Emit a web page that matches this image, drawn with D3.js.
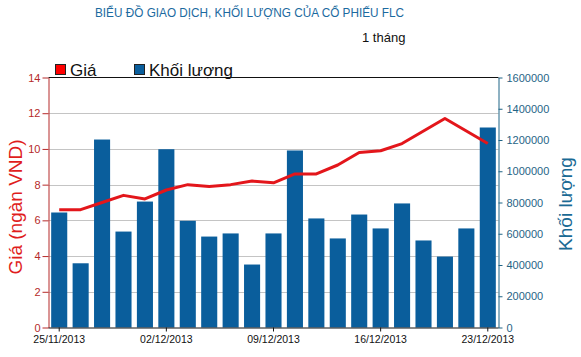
<!DOCTYPE html>
<html>
<head>
<meta charset="utf-8">
<script src="https://cdn.jsdelivr.net/npm/d3@7"></script>
<style>
  html, body { margin: 0; padding: 0; background: #fff; }
  svg { display: block; font-family: "Liberation Sans", Arial, sans-serif; }
</style>
</head>
<body>
<div id="chart"></div>
<script>
const dates = ["25/11/2013","26/11/2013","27/11/2013","28/11/2013","29/11/2013",
  "02/12/2013","03/12/2013","04/12/2013","05/12/2013","06/12/2013",
  "09/12/2013","10/12/2013","11/12/2013","12/12/2013","13/12/2013",
  "16/12/2013","17/12/2013","18/12/2013","19/12/2013","20/12/2013","23/12/2013"];
const tickDates = ["25/11/2013","02/12/2013","09/12/2013","16/12/2013","23/12/2013"];
const price = [6.6,6.6,7.0,7.4,7.2,7.7,8.0,7.9,8.0,8.2,8.1,8.6,8.6,9.1,9.8,9.9,10.3,11.0,11.7,11.0,10.3];
const volume = [736000,411000,1203000,614000,806000,1141000,683000,582000,602000,403000,
  602000,1133000,698000,570000,723000,634000,794000,557000,454000,634000,1280000];
const priceTicks = [0,2,4,6,8,10,12,14];
const volumeTicks = [0,200000,400000,600000,800000,1000000,1200000,1400000,1600000];

(function () {
const W = 581, H = 357;
const pLeft = 48.5, pRight = 498.5, pTop = 77.5, pBottom = 327.5;
const red = "#e3161b", axisRed = "#b52a2a", blue = "#0a5e9c", teal = "#1f6486";

const svg = d3.select("#chart").append("svg").attr("width", W).attr("height", H);

const x = d3.scaleBand().domain(dates).range([pLeft, pRight]).paddingInner(0.25).paddingOuter(0.125);
const yP = d3.scaleLinear().domain([0, 14]).range([pBottom, pTop]);
const yV = d3.scaleLinear().domain([0, 1600000]).range([pBottom, pTop]);

// Title
svg.append("text").attr("x", 95).attr("y", 17).attr("fill", "#1b6aa0")
  .attr("font-size", 12).attr("textLength", 309).attr("lengthAdjust", "spacingAndGlyphs")
  .text("BIỂU ĐỒ GIAO DỊCH, KHỐI LƯỢNG CỦA CỔ PHIẾU FLC");
svg.append("text").attr("x", 362).attr("y", 42).attr("fill", "#111")
  .attr("font-size", 13).text("1 tháng");

// Legend
svg.append("rect").attr("x", 55.5).attr("y", 64.5).attr("width", 10).attr("height", 10)
  .attr("fill", "#f00").attr("stroke", "#222");
svg.append("text").attr("x", 70).attr("y", 76).attr("font-size", 17).attr("fill", "#111").text("Giá");
svg.append("rect").attr("x", 134.5).attr("y", 64.5).attr("width", 10).attr("height", 10)
  .attr("fill", blue).attr("stroke", "#222");
svg.append("text").attr("x", 149).attr("y", 76).attr("font-size", 17).attr("fill", "#111").text("Khối lượng");

// Gridlines
svg.append("g").selectAll("line").data(priceTicks.filter(d => d > 0 && d < 14)).join("line")
  .attr("x1", pLeft).attr("x2", pRight)
  .attr("y1", d => Math.round(yP(d)) + 0.5).attr("y2", d => Math.round(yP(d)) + 0.5)
  .attr("stroke", "#c4c4c4").attr("stroke-width", 1);

// Top border
svg.append("line").attr("x1", pLeft).attr("x2", pRight).attr("y1", pTop).attr("y2", pTop)
  .attr("stroke", "#111").attr("stroke-width", 1);

// Bars
svg.append("g").selectAll("rect").data(volume).join("rect")
  .attr("x", (d, i) => x(dates[i]))
  .attr("width", x.bandwidth())
  .attr("y", d => yV(d))
  .attr("height", d => pBottom - yV(d))
  .attr("fill", blue);

// Price line
svg.append("path").datum(price)
  .attr("d", d3.line().x((d, i) => x(dates[i]) + x.bandwidth() / 2).y(d => yP(d)))
  .attr("fill", "none").attr("stroke", red).attr("stroke-width", 3).attr("stroke-linejoin", "round");

// Left axis
const gL = svg.append("g").attr("transform", `translate(${pLeft},0)`)
  .call(d3.axisLeft(yP).tickValues(priceTicks).tickSize(6).tickSizeOuter(0).tickPadding(2));
gL.select(".domain").attr("stroke", axisRed);
gL.selectAll(".tick line").attr("stroke", axisRed);
gL.selectAll(".tick text").attr("fill", axisRed).attr("font-size", 11)
  .attr("font-family", "Liberation Sans, Arial, sans-serif");

// Right axis
const gR = svg.append("g").attr("transform", `translate(${pRight},0)`)
  .call(d3.axisRight(yV).tickValues(volumeTicks).tickSize(4).tickSizeOuter(0).tickPadding(4)
    .tickFormat(d3.format("d")));
gR.select(".domain").attr("stroke", teal);
gR.selectAll(".tick line").attr("stroke", teal);
gR.selectAll(".tick text").attr("fill", teal).attr("font-size", 11)
  .attr("font-family", "Liberation Sans, Arial, sans-serif");

// Bottom axis
const gB = svg.append("g").attr("transform", `translate(0,${pBottom})`)
  .call(d3.axisBottom(x).tickValues(tickDates).tickSize(4).tickSizeOuter(0).tickPadding(4));
gB.select(".domain").attr("stroke", "#111").attr("d", `M${pLeft},0.5H${pRight}`);
gB.selectAll(".tick line").attr("stroke", "#111");
gB.selectAll(".tick text").attr("fill", "#111").attr("font-size", 10.5)
  .attr("font-family", "Liberation Sans, Arial, sans-serif");

// Axis titles
svg.append("text").attr("transform", "translate(22,207) rotate(-90)")
  .attr("text-anchor", "middle").attr("fill", "#e01d1d").attr("font-size", 19)
  .text("Giá (ngàn VND)");
svg.append("text").attr("transform", "translate(572,204) rotate(-90)")
  .attr("text-anchor", "middle").attr("fill", "#1a6a94").attr("font-size", 19)
  .text("Khối lượng");
})();
</script>
</body>
</html>
